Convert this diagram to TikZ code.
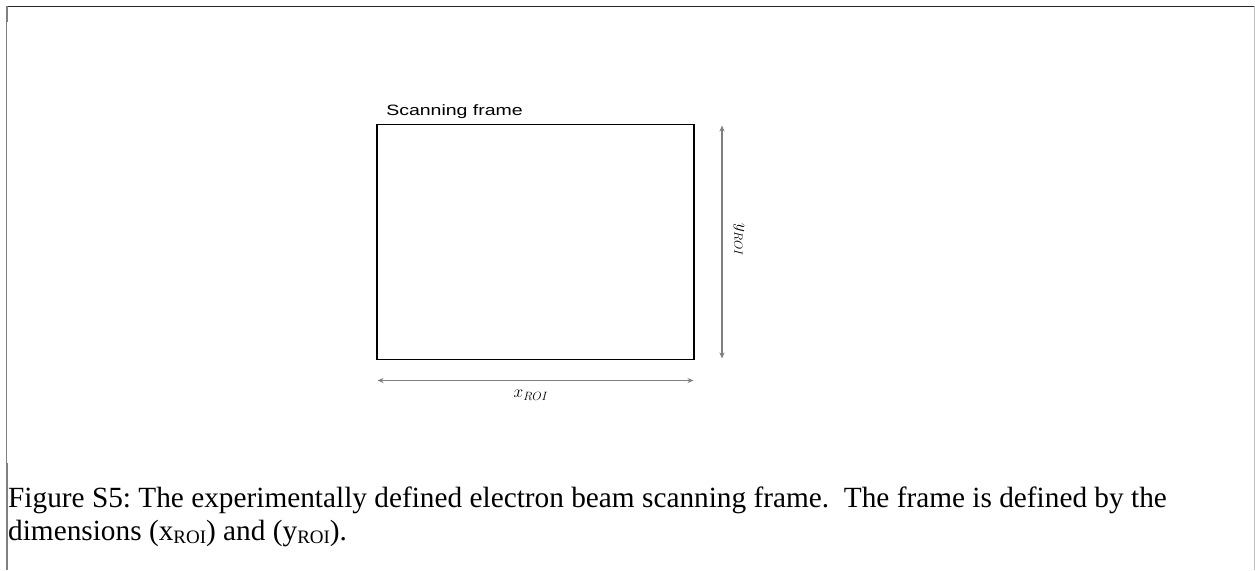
\documentclass[tikz,border=0pt]{standalone}
\usepackage{fontspec}
\setmainfont{Liberation Serif}
\newfontfamily\labelsans{Liberation Sans}
\usetikzlibrary{arrows.meta}
\definecolor{dimgray}{HTML}{7F7F7F}
\definecolor{rulegray}{HTML}{808080}
\definecolor{lightrule}{HTML}{BDBDBD}
\tikzset{
  framebox/.style={draw=black, line width=1.8pt},
  dimline/.style={draw=dimgray, line width=1.3pt,
    {Stealth[length=6pt,width=5pt]}-{Stealth[length=6pt,width=5pt]}},
  captionline/.style={anchor=base west, inner sep=0pt,
    font=\fontsize{29.3}{33}\selectfont\frenchspacing},
}
\newcommand{\capsub}[1]{\raisebox{-0.12em}{\fontsize{19}{21}\selectfont #1}}
\begin{document}
\begin{tikzpicture}[x=1pt,y=-1pt]
  \useasboundingbox (0,0) rectangle (1255,570);
  % page rules
  \draw[black!85, line width=1.4pt] (6,6.5) -- (1255,6.5);
  \draw[rulegray, line width=1pt] (6.5,6) -- (6.5,463);
  \draw[rulegray, line width=2.4pt] (7.2,6) -- (7.2,22);
  \draw[rulegray, line width=2.4pt] (7.2,463) -- (7.2,570);
  \draw[lightrule, line width=1pt] (1254.3,6) -- (1254.3,570);
  % scanning frame
  \node[framebox, minimum width=317pt, minimum height=235pt, inner sep=0pt]
    (frame) at (535.5,242) {};
  \node[anchor=base west, inner sep=0pt, font=\labelsans\fontsize{15}{17}\selectfont,
    xscale=1.3] (ftitle) at (386,115) {Scanning frame};
  % dimension arrows
  \coordinate (ytop) at (722,125.5);
  \coordinate (ybot) at (722,358.5);
  \coordinate (xl) at (377.5,380.5);
  \coordinate (xr) at (693.5,380.5);
  \draw[dimline] (ytop) -- (ybot);
  \draw[dimline] (xl) -- (xr);
  \node[inner sep=0pt, font=\fontsize{16.5}{18}\selectfont] (xlab) at (531,395) {$x_{ROI}$};
  \node[inner sep=0pt, rotate=-90, font=\fontsize{16.5}{18}\selectfont] (ylab) at (739,240) {$y_{ROI}$};
  % caption
  \node[captionline] (cap1) at (8,507)
    {Figure S5: The experimentally defined electron beam scanning frame.\ \ The frame is defined by the};
  \node[captionline] (cap2) at (8,540)
    {dimensions (x\capsub{ROI}) and (y\capsub{ROI}).};
\end{tikzpicture}
\end{document}
